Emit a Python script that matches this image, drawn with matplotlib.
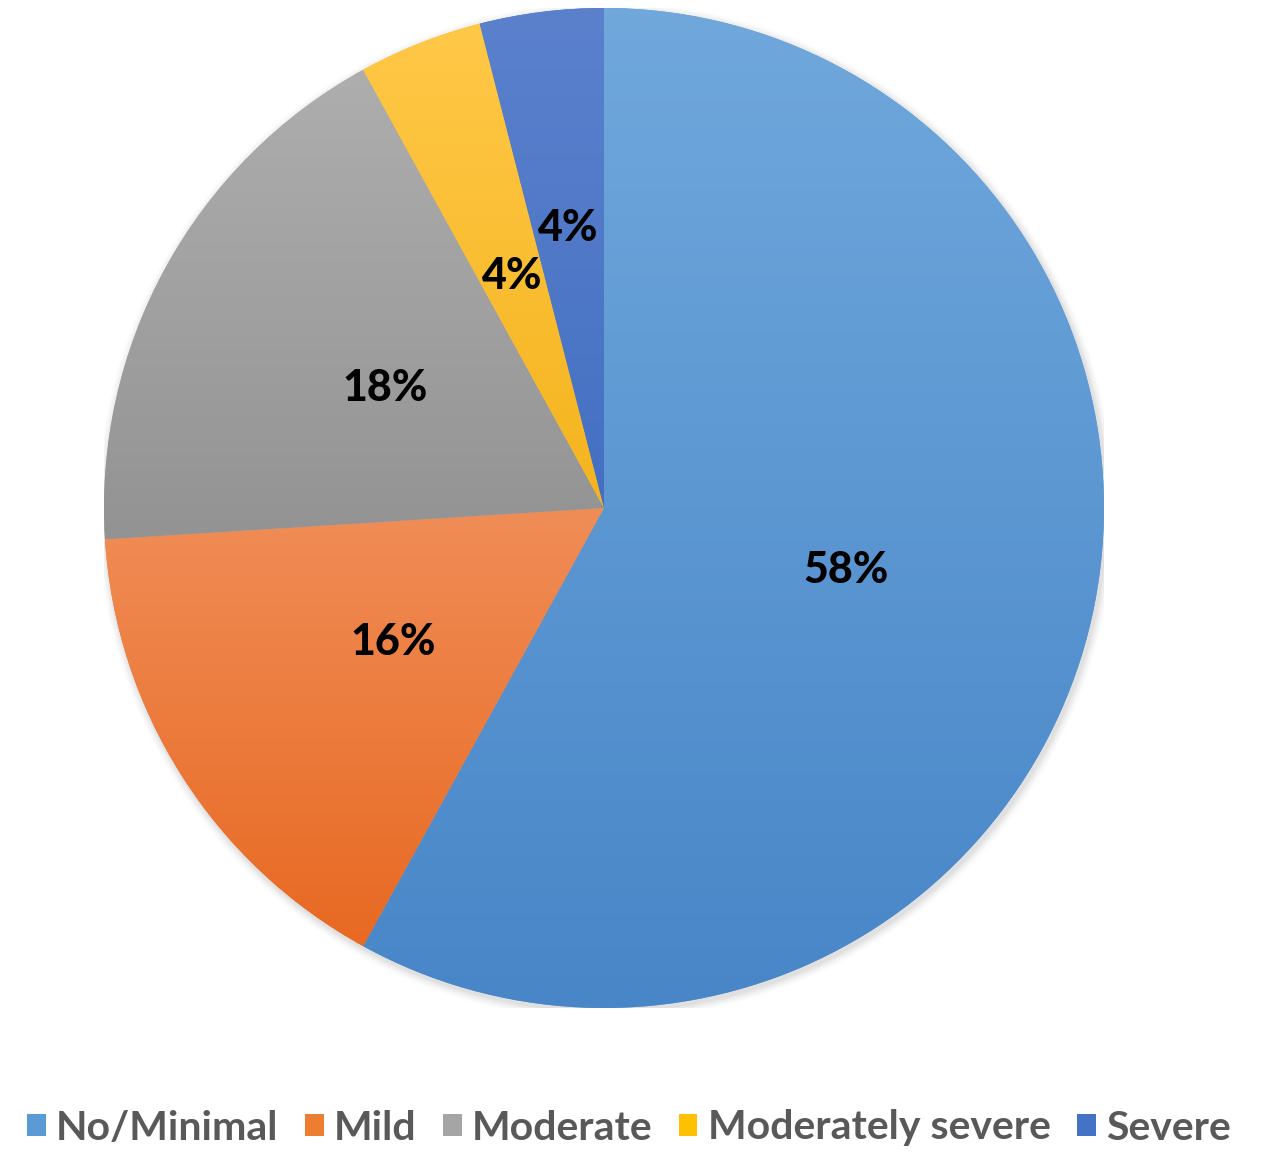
import matplotlib
matplotlib.use("Agg")
import matplotlib.pyplot as plt
import numpy as np
from matplotlib.colors import LinearSegmentedColormap

categories = ["No/Minimal", "Mild", "Moderate", "Moderately severe", "Severe"]
values = [58, 16, 18, 4, 4]
base_colors = ["#5B9BD5", "#ED7D31", "#A5A5A5", "#FFC000", "#4472C4"]
top_colors = ["#70A8DC", "#F08D57", "#AEAEAE", "#FFC847", "#5B81CD"]
bottom_colors = ["#4886C8", "#E86922", "#939393", "#F5B41E", "#4470C2"]

W, H = 1261, 1154
fig = plt.figure(figsize=(W / 100, H / 100), dpi=100)
fig.patch.set_facecolor("white")

cx, cy, R = 604, 508, 500
ax = fig.add_axes([(cx - R) / W, (H - cy - R) / H, 2 * R / W, 2 * R / H])

# soft shadow
for i, a in enumerate(np.linspace(0.05, 0.01, 6)):
    circ = plt.Circle((0.004, -0.006), 1.0 + 0.003 * (i + 1), color="#606060",
                      alpha=a, lw=0, zorder=0)
    ax.add_patch(circ)

wedges, texts, autotexts = ax.pie(
    values, colors=base_colors, startangle=90, counterclock=False,
    radius=1.0, autopct=lambda p: f"{p:.0f}%", pctdistance=0.5,
    wedgeprops=dict(linewidth=0, edgecolor="none"),
    textprops=dict(fontsize=31, fontweight="black", color="black", family="Lato"),
)
for w in wedges:
    w.set_zorder(1)

grad = np.linspace(0, 1, 256).reshape(-1, 1)
for w, tc, bc in zip(wedges, top_colors, bottom_colors):
    ext = w.get_path().get_extents()
    cmap = LinearSegmentedColormap.from_list("g", [bc, tc])
    im = ax.imshow(grad, extent=[ext.x0, ext.x1, ext.y0, ext.y1], origin="lower",
                   cmap=cmap, aspect="auto", zorder=2, interpolation="bilinear")
    im.set_clip_path(w)

for t in autotexts:
    t.set_zorder(5)
# severe label sits slightly further out
x, y = autotexts[-1].get_position()
autotexts[-1].set_position((x * 1.13, y * 1.13))

ax.set_xlim(-1, 1)
ax.set_ylim(-1, 1)
ax.set_aspect("equal")
ax.axis("off")

leg = fig.legend(wedges, categories, loc="center", bbox_to_anchor=(629 / W, 1 - 1128 / H),
                 ncol=5, frameon=False, handlelength=0.45, handleheight=0.45,
                 handletextpad=0.25, columnspacing=0.65,
                 prop=dict(family="Lato", weight="bold", size=29.5))
for t in leg.get_texts():
    t.set_color("#595959")

fig.savefig("out.png", dpi=100, facecolor="white")
